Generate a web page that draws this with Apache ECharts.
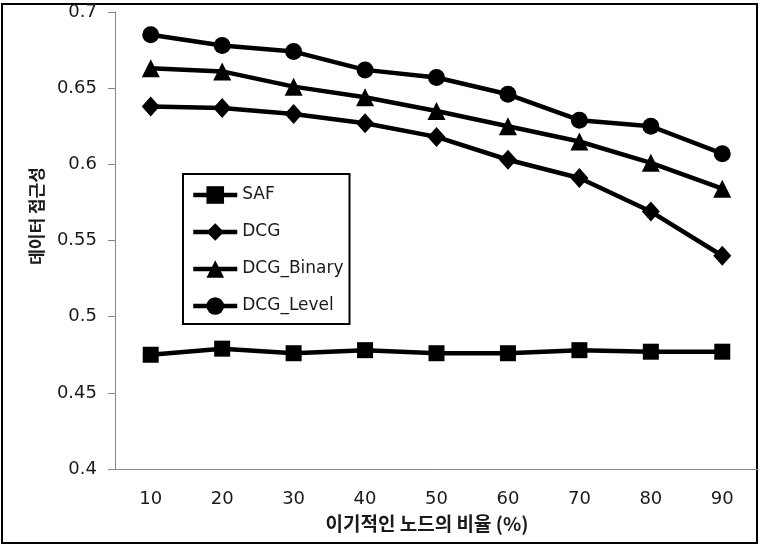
<!DOCTYPE html>
<html>
<head>
<meta charset="utf-8">
<script src="https://cdn.jsdelivr.net/npm/echarts@6/dist/echarts.min.js"></script>
<style>html,body{margin:0;padding:0;background:#fff}#c{width:762px;height:549px}</style>
</head>
<body>
<div id="c"></div>
<script>
const categories = ['10','20','30','40','50','60','70','80','90'];
const seriesNames = ['SAF','DCG','DCG_Binary','DCG_Level'];
const safValues = [0.475, 0.479, 0.476, 0.478, 0.476, 0.476, 0.478, 0.477, 0.477];
const dcgValues = [0.638, 0.637, 0.633, 0.627, 0.618, 0.603, 0.591, 0.569, 0.540];
const dcgBinaryValues = [0.663, 0.661, 0.651, 0.644, 0.635, 0.625, 0.615, 0.601, 0.584];
const dcgLevelValues = [0.685, 0.678, 0.674, 0.662, 0.657, 0.646, 0.629, 0.625, 0.607];
const xTitle = '이기적인 노드의 비율 (%)';
const yTitle = '데이터 접근성';

const chart = echarts.init(document.getElementById('c'), null, {renderer: 'canvas'});
const latin = 'DejaVu Sans';
const kr = '"Noto Sans CJK KR"';
function mk(name, data, symbol, size) {
  return {
    name: name, type: 'line', data: data, symbol: symbol, symbolSize: size,
    lineStyle: {color: '#000', width: 4.5},
    itemStyle: {color: '#000'},
    emphasis: {disabled: true}
  };
}
chart.setOption({
  animation: false,
  backgroundColor: '#fff',
  grid: {left: 115, top: 12, width: 643, height: 457},
  xAxis: {
    type: 'category', data: categories, boundaryGap: true,
    axisLine: {lineStyle: {color: '#868686', width: 1}},
    axisTick: {show: false},
    axisLabel: {fontFamily: latin, fontSize: 18, color: '#1a1a1a', margin: 21}
  },
  yAxis: {
    type: 'value', min: 0.4, max: 0.7, interval: 0.05,
    axisLine: {show: true, lineStyle: {color: '#868686', width: 1}},
    axisTick: {show: true, length: 7, lineStyle: {color: '#868686'}},
    splitLine: {show: false},
    axisLabel: {fontFamily: latin, fontSize: 18, color: '#1a1a1a', margin: 18}
  },
  legend: {
    orient: 'vertical', left: 183, top: 174,
    padding: [10, 6, 7, 8],
    borderColor: '#000', borderWidth: 2, backgroundColor: '#fff',
    itemWidth: 44, itemHeight: 22, itemGap: 15,
    lineStyle: {width: 4.5, color: '#000'},
    textStyle: {fontFamily: latin, fontSize: 17, color: '#1a1a1a', lineHeight: 22},
    data: seriesNames
  },
  graphic: [
    {type: 'rect', shape: {x: 2, y: 4, width: 755, height: 539}, style: {fill: 'none', stroke: '#000', lineWidth: 2}, silent: true},
    {type: 'text', x: 427, y: 524, style: {text: xTitle, font: 'bold 19px ' + kr, fill: '#1a1a1a', textAlign: 'center', textVerticalAlign: 'middle'}},
    {type: 'text', x: 37, y: 216, rotation: Math.PI / 2, style: {text: yTitle, font: 'bold 17px ' + kr, fill: '#1a1a1a', textAlign: 'center', textVerticalAlign: 'middle'}}
  ],
  series: [
    mk(seriesNames[0], safValues, 'rect', 16),
    mk(seriesNames[1], dcgValues, 'diamond', [18, 20]),
    mk(seriesNames[2], dcgBinaryValues, 'triangle', 18),
    mk(seriesNames[3], dcgLevelValues, 'circle', 17)
  ]
});
</script>
</body>
</html>
